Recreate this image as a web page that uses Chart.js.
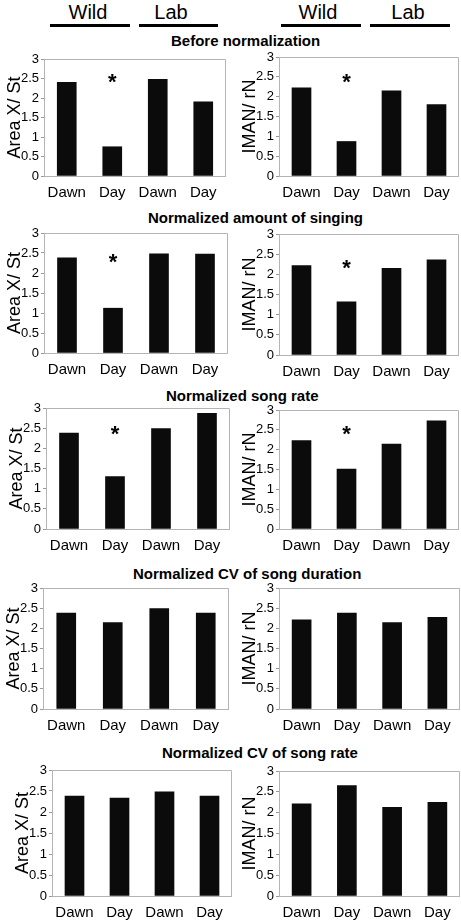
<!DOCTYPE html>
<html>
<head>
<meta charset="utf-8">
<script src="https://cdn.jsdelivr.net/npm/chart.js@4.4.0/dist/chart.umd.min.js"></script>
<style>
  body { margin: 0; background: #fff; width: 461px; height: 922px; position: relative; overflow: hidden;
         font-family: "Liberation Sans", Arial, sans-serif; color: #000; }
  .box { position: absolute; }
  .hdr { position: absolute; width: 80px; text-align: center; font-size: 20px; line-height: 20px; }
  .rule { position: absolute; height: 3px; background: #000; }
  .ttl { position: absolute; font-size: 15px; font-weight: bold; line-height: 15px; white-space: nowrap; }
</style>
</head>
<body>
<script>
// categories and labels
const categories = ['Dawn', 'Day', 'Dawn', 'Day'];
const groups = ['Wild', 'Lab'];
const yTitles = ['Area X/ St', 'IMAN/ rN'];
const panelTitles = ['Before normalization', 'Normalized amount of singing', 'Normalized song rate',
                     'Normalized CV of song duration', 'Normalized CV of song rate'];

// values (Wild Dawn, Wild Day, Lab Dawn, Lab Day)
const beforeAreaX   = [2.40, 0.75, 2.48, 1.90];
const beforeIman    = [2.22, 0.87, 2.15, 1.80];
const singingAreaX  = [2.38, 1.12, 2.48, 2.47];
const singingIman   = [2.22, 1.32, 2.15, 2.36];
const rateAreaX     = [2.38, 1.30, 2.49, 2.87];
const rateIman      = [2.23, 1.51, 2.14, 2.73];
const cvDurAreaX    = [2.38, 2.14, 2.49, 2.38];
const cvDurIman     = [2.21, 2.38, 2.14, 2.27];
const cvRateAreaX   = [2.38, 2.33, 2.48, 2.38];
const cvRateIman    = [2.21, 2.65, 2.13, 2.25];

// asterisk heights (significance marks)
const beforeStarAreaX  = [null, 2.53, null, null];
const beforeStarIman   = [null, 2.49, null, null];
const singingStarAreaX = [null, 2.40, null, null];
const singingStarIman  = [null, 2.27, null, null];
const rateStarAreaX    = [null, 2.47, null, null];
const rateStarIman     = [null, 2.51, null, null];

Chart.defaults.font.family = '"Liberation Sans", Arial, sans-serif';

// header: Wild / Lab with rules
function addHeader(cx, text) {
  const d = document.createElement('div');
  d.className = 'hdr'; d.textContent = text;
  d.style.left = (cx - 40) + 'px'; d.style.top = '2px';
  document.body.appendChild(d);
}
function addRule(x1, x2) {
  const d = document.createElement('div');
  d.className = 'rule';
  d.style.left = x1 + 'px'; d.style.width = (x2 - x1) + 'px'; d.style.top = '24px';
  document.body.appendChild(d);
}
addHeader(88, groups[0]); addHeader(171, groups[1]);
addHeader(318, groups[0]); addHeader(408, groups[1]);
addRule(50, 130); addRule(139, 218); addRule(281, 361); addRule(370, 450);

// panel titles
const titlePos = [[171, 33], [148, 210], [166, 388], [133, 566], [162, 745]];
panelTitles.forEach((t, i) => {
  const d = document.createElement('div');
  d.className = 'ttl'; d.textContent = t;
  d.style.left = titlePos[i][0] + 'px'; d.style.top = titlePos[i][1] + 'px';
  document.body.appendChild(d);
});

// light frame round the plot area
const frame = {
  id: 'frame',
  afterDraw(chart) {
    const a = chart.chartArea, ctx = chart.ctx;
    ctx.save();
    ctx.strokeStyle = '#b4b4b4'; ctx.lineWidth = 1;
    ctx.beginPath();
    ctx.moveTo(a.left, a.top + 0.5); ctx.lineTo(a.right - 0.5, a.top + 0.5);
    ctx.lineTo(a.right - 0.5, a.bottom);
    ctx.stroke();
    ctx.restore();
  }
};

// asterisks placed through the scales
const stars = {
  id: 'stars',
  afterDatasetsDraw(chart, args, opts) {
    if (!opts.values) return;
    const ctx = chart.ctx, xs = chart.scales.x, ys = chart.scales.y;
    ctx.save();
    ctx.fillStyle = '#000';
    ctx.font = 'bold 22px "Liberation Sans", Arial, sans-serif';
    ctx.textAlign = 'center'; ctx.textBaseline = 'alphabetic';
    opts.values.forEach((v, i) => {
      if (v == null) return;
      ctx.fillText('*', xs.getPixelForValue(i), ys.getPixelForValue(v) + 12);
    });
    ctx.restore();
  }
};

// plot rectangles on the page: left, right, top, bottom
const panels = [
  { l: 44, r: 225, t: 59, b: 176, v: beforeAreaX, s: beforeStarAreaX, y: yTitles[0] },
  { l: 279, r: 458, t: 57, b: 176, v: beforeIman, s: beforeStarIman, y: yTitles[1] },
  { l: 44, r: 227, t: 233, b: 353, v: singingAreaX, s: singingStarAreaX, y: yTitles[0] },
  { l: 279, r: 458, t: 234, b: 355, v: singingIman, s: singingStarIman, y: yTitles[1] },
  { l: 46, r: 229, t: 408, b: 529, v: rateAreaX, s: rateStarAreaX, y: yTitles[0] },
  { l: 279, r: 458, t: 410, b: 529, v: rateIman, s: rateStarIman, y: yTitles[1] },
  { l: 43, r: 228, t: 588, b: 709, v: cvDurAreaX, s: null, y: yTitles[0] },
  { l: 279, r: 459, t: 588, b: 709, v: cvDurIman, s: null, y: yTitles[1] },
  { l: 52, r: 231, t: 770, b: 896, v: cvRateAreaX, s: null, y: yTitles[0] },
  { l: 279, r: 459, t: 771, b: 896, v: cvRateIman, s: null, y: yTitles[1] }
];

panels.forEach(p => {
  const cl = p.l - 42, ct = p.t - 10;
  const div = document.createElement('div');
  div.className = 'box';
  div.style.left = cl + 'px'; div.style.top = ct + 'px';
  div.style.width = (p.r - cl + 1) + 'px'; div.style.height = (p.b - ct + 26) + 'px';
  const cv = document.createElement('canvas');
  div.appendChild(cv);
  document.body.appendChild(div);

  new Chart(cv.getContext('2d'), {
    type: 'bar',
    data: { labels: categories, datasets: [{ data: p.v, backgroundColor: '#0b0b0b', barThickness: 19 }] },
    options: {
      responsive: true, maintainAspectRatio: false, animation: false,
      layout: { padding: { top: 10, right: 0, bottom: 0, left: 0 } },
      plugins: { legend: { display: false }, tooltip: { enabled: false }, stars: { values: p.s } },
      scales: {
        x: {
          grid: { display: false, drawTicks: false },
          border: { color: '#b4b4b4' },
          ticks: { color: '#000', font: { size: 15 }, padding: 8, maxRotation: 0, autoSkip: false },
          afterFit: s => { s.height = 26; }
        },
        y: {
          min: 0, max: 3,
          ticks: { stepSize: 0.5, color: '#000', font: { size: 13 }, padding: 2, callback: v => String(v) },
          grid: { drawOnChartArea: false, tickLength: 3, color: '#999' },
          border: { color: '#b4b4b4' },
          title: { display: true, text: p.y, color: '#000', font: { size: 18 }, padding: { top: 2, bottom: 0 } },
          afterFit: s => { s.width = 42; }
        }
      }
    },
    plugins: [frame, stars]
  });
});
</script>
</body>
</html>
